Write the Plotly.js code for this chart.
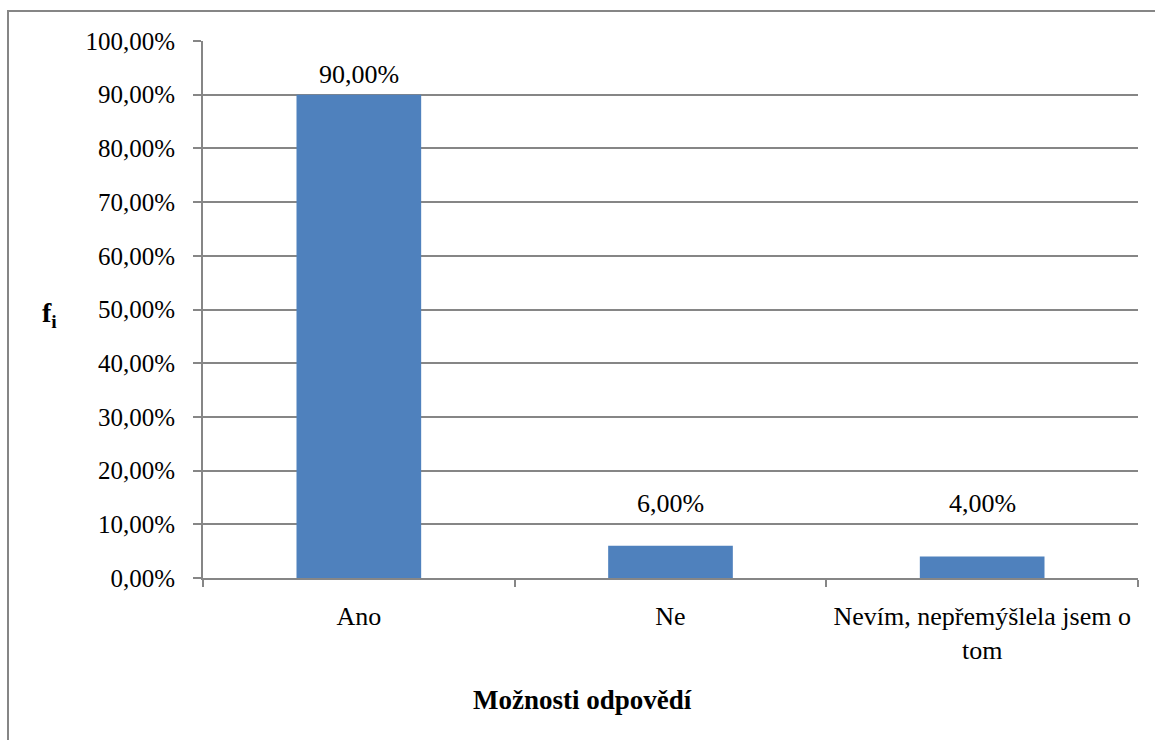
<!DOCTYPE html>
<html>
<head>
<meta charset="utf-8">
<script src="https://cdn.plot.ly/plotly-3.0.1.min.js"></script>
<style>
  html, body { margin: 0; padding: 0; background: #ffffff; }
  #chart { width: 1155px; height: 740px; }
</style>
</head>
<body>
<div id="chart"></div>
<script>
// Odpovědi respondentek a jejich relativní četnosti
const categories = ['Ano', 'Ne', 'Nevím, nepřemýšlela jsem o tom'];
const tickLabels = ['Ano', 'Ne', 'Nevím, nepřemýšlela jsem o<br>tom'];
const shares = [0.90, 0.06, 0.04];

const FONT = 'Liberation Serif, Times New Roman, serif';
const GRAY = '#868686';
const BAR = '#4F81BD';

const W = 1155, H = 740;
const margin = { l: 203, r: 17, t: 41, b: 162 };
const plotW = W - margin.l - margin.r;
const plotH = H - margin.t - margin.b;
// pixel -> paper coordinate helpers
const px = x => (x - margin.l) / plotW;
const py = y => (H - margin.b - y) / plotH;

const fmt = v => (v * 100).toFixed(2).replace('.', ',') + '%';

const labels = categories.map((c, i) => ({
  x: c,
  y: Math.max(shares[i], 0.10),
  xref: 'x', yref: 'y',
  text: fmt(shares[i]),
  showarrow: false,
  yanchor: 'bottom',
  yshift: 4,
  font: { family: FONT, size: 26, color: '#000' }
}));

const trace = {
  type: 'bar',
  x: categories,
  y: shares,
  marker: { color: BAR, line: { width: 0 } },
  hoverinfo: 'skip'
};

const layout = {
  width: W, height: H,
  margin: margin,
  paper_bgcolor: '#ffffff',
  plot_bgcolor: '#ffffff',
  showlegend: false,
  bargap: 0.6,
  separators: ', ',
  font: { family: FONT, size: 25, color: '#000' },
  xaxis: {
    type: 'category',
    tickvals: categories,
    ticktext: tickLabels,
    showline: true, linecolor: GRAY, linewidth: 2,
    ticks: 'outside', tickson: 'boundaries', ticklen: 7, tickcolor: GRAY, tickwidth: 2,
    showgrid: false, zeroline: false,
    ticklabelstandoff: 14,
    tickfont: { family: FONT, size: 26, color: '#000' }
  },
  yaxis: {
    range: [0, 1],
    dtick: 0.1,
    tickformat: '.2%',
    showline: true, linecolor: GRAY, linewidth: 2,
    ticks: 'outside', ticklen: 8, tickcolor: GRAY, tickwidth: 2,
    showgrid: true, gridcolor: GRAY, gridwidth: 2,
    zeroline: false,
    ticklabelstandoff: 13,
    tickfont: { family: FONT, size: 25, color: '#000' }
  },
  annotations: labels.concat([
    {
      xref: 'paper', yref: 'paper', x: px(49), y: py(314),
      text: '<b>f<sub>i</sub></b>', showarrow: false,
      xanchor: 'center', yanchor: 'middle',
      font: { family: FONT, size: 28, color: '#000' }
    },
    {
      xref: 'paper', yref: 'paper', x: px(582), y: py(700),
      text: '<b>Možnosti odpovědí</b>', showarrow: false,
      xanchor: 'center', yanchor: 'middle',
      font: { family: FONT, size: 27, color: '#000' }
    }
  ]),
  shapes: [
    {
      type: 'rect', xref: 'paper', yref: 'paper',
      x0: px(8), x1: px(1200), y0: py(11), y1: py(800),
      line: { color: GRAY, width: 2 }, fillcolor: 'rgba(0,0,0,0)', layer: 'below'
    }
  ]
};

Plotly.newPlot('chart', [trace], layout, { staticPlot: true, displayModeBar: false });
</script>
</body>
</html>
